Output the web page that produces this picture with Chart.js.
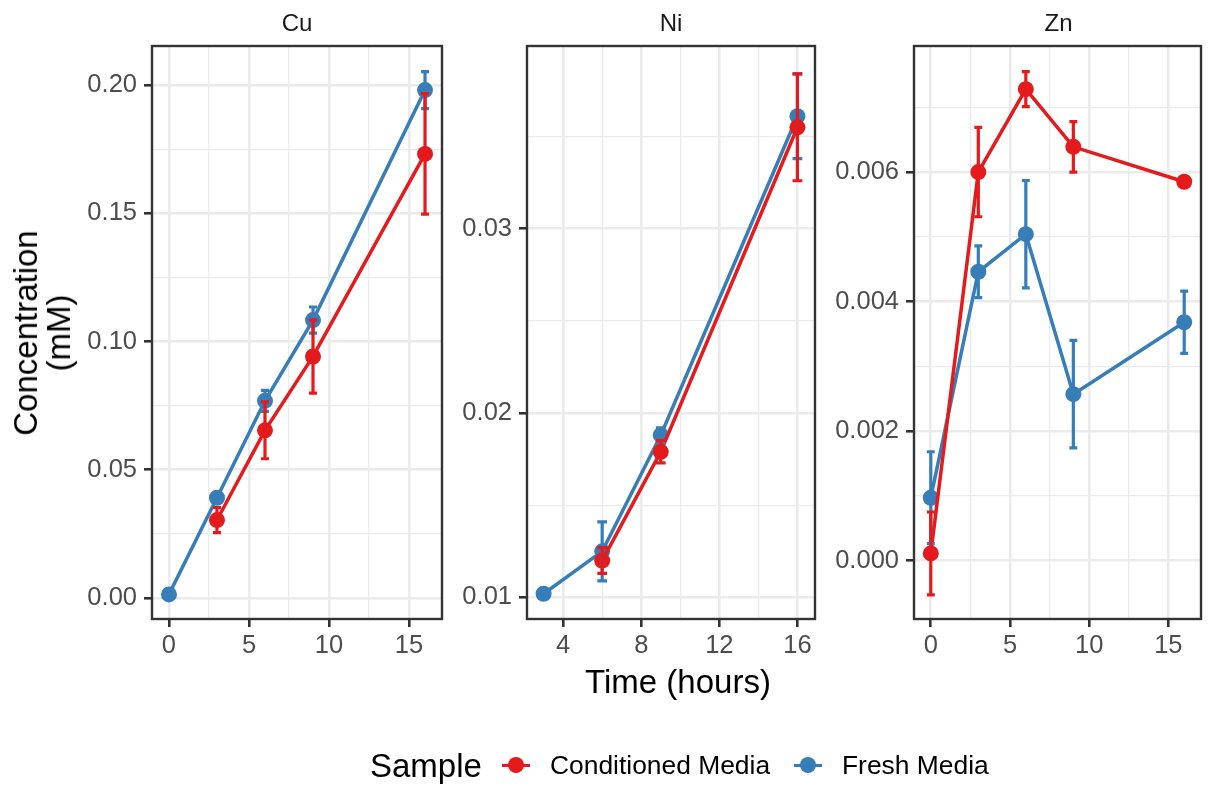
<!DOCTYPE html>
<html>
<head>
<meta charset="utf-8">
<title>Metal concentration over time</title>
<script src="https://cdn.jsdelivr.net/npm/chart.js@4.4.0/dist/chart.umd.min.js"></script>
<style>
  body { margin: 0; background: #fff; font-family: "Liberation Sans", Arial, sans-serif; }
  #wrap { position: relative; width: 1209px; height: 792px; overflow: hidden; }
  canvas { position: absolute; left: 0; top: 0; }
  .txt { position: absolute; line-height: 1; white-space: nowrap; transform: translate(-50%, -50%); }
  .strip { font-size: 24px; color: #1a1a1a; }
  .title { font-size: 33px; color: #000; }
  .lg { position: absolute; line-height: 1; white-space: nowrap; transform: translateY(-50%); color: #000; }
  .key-line { position: absolute; height: 3px; }
  .key-dot { position: absolute; width: 16px; height: 16px; border-radius: 50%; }
</style>
</head>
<body>
<div id="wrap">
  <canvas id="cu" width="1209" height="792"></canvas>
  <canvas id="ni" width="1209" height="792"></canvas>
  <canvas id="zn" width="1209" height="792"></canvas>

  <div class="txt strip" style="left:297px; top:23px;">Cu</div>
  <div class="txt strip" style="left:671px; top:23px;">Ni</div>
  <div class="txt strip" style="left:1058.5px; top:23px;">Zn</div>

  <div class="txt title" style="left:678px; top:681px;">Time (hours)</div>
  <div class="txt title" style="left:42px; top:332.5px; line-height:33px; text-align:center; transform:translate(-50%,-50%) rotate(-90deg);">Concentration<br>(mM)</div>

  <div class="lg" style="left:370px; top:765px; font-size:33px;">Sample</div>
  <div class="key-line" style="left:502px; top:763.5px; width:28px; background:#E41A1C;"></div>
  <div class="key-dot" style="left:508px; top:757px; background:#E41A1C;"></div>
  <div class="lg" style="left:550px; top:765px; font-size:26.4px;">Conditioned Media</div>
  <div class="key-line" style="left:794px; top:763.5px; width:28px; background:#377EB8;"></div>
  <div class="key-dot" style="left:800px; top:757px; background:#377EB8;"></div>
  <div class="lg" style="left:842px; top:765px; font-size:26.4px;">Fresh Media</div>
</div>

<script>
// ---- data (mean concentration in mM, with error half-widths) ----
const cuTimes = [0, 3, 6, 9, 16];
const cuConditioned = [null, 0.0304, 0.0654, 0.0942, 0.1732];
const cuConditionedErr = [null, 0.0049, 0.0111, 0.0143, 0.0235];
const cuFresh = [0.0014, 0.0391, 0.0769, 0.1084, 0.1981];
const cuFreshErr = [0.0004, 0.0012, 0.0041, 0.0051, 0.0072];

const niTimes = [3, 6, 9, 16];
const niConditioned = [null, 0.0120, 0.0179, 0.0355];
const niConditionedErr = [null, 0.0007, 0.0006, 0.0029];
const niFresh = [0.0102, 0.0125, 0.0188, 0.0361];
const niFreshErr = [0.0001, 0.0016, 0.0004, 0.0023];

const znTimes = [0, 3, 6, 9, 16];
const znConditioned = [0.00011, 0.00600, 0.00728, 0.00639, 0.00585];
const znConditionedErr = [0.00064, 0.00069, 0.00027, 0.00039, 0.00003];
const znFresh = [0.00097, 0.00446, 0.00504, 0.00257, 0.00368];
const znFreshErr = [0.00071, 0.00040, 0.00083, 0.00083, 0.00048];

// tick labels
const cuYTicks = ['0.00', '0.05', '0.10', '0.15', '0.20'];
const niYTicks = ['0.01', '0.02', '0.03'];
const znYTicks = ['0.000', '0.002', '0.004', '0.006'];
const cuXTicks = ['0', '5', '10', '15'];
const niXTicks = ['4', '8', '12', '16'];
const znXTicks = ['0', '5', '10', '15'];

const seriesNames = ['Conditioned Media', 'Fresh Media'];
const seriesColors = ['#E41A1C', '#377EB8'];

// ---- layout / style ----
const ERR_WIDTH = 0.5;      // error bar cap width in hours
const AXIS_W = 100;         // fixed y axis box width
const AXIS_H = 60;          // fixed x axis box height
const PANEL_TOP = 46;
const PANEL_BOTTOM = 619;

const panels = [
  { id: 'cu', left: 152, right: 442, xMin: -1.06, xMax: 17.06, yMin: -0.0082, yMax: 0.2153,
    times: cuTimes, series: [[cuConditioned, cuConditionedErr], [cuFresh, cuFreshErr]],
    xTicks: cuXTicks, yTicks: cuYTicks },
  { id: 'ni', left: 527, right: 815, xMin: 2.15, xMax: 16.9, yMin: 0.00883, yMax: 0.03991,
    times: niTimes, series: [[niConditioned, niConditionedErr], [niFresh, niFreshErr]],
    xTicks: niXTicks, yTicks: niYTicks },
  { id: 'zn', left: 914, right: 1203, xMin: -1.06, xMax: 17.06, yMin: -0.000903, yMax: 0.007947,
    times: znTimes, series: [[znConditioned, znConditionedErr], [znFresh, znFreshErr]],
    xTicks: znXTicks, yTicks: znYTicks }
];

// major ticks from labels plus ggplot-style minor ticks halfway between
function withMinor(labels, min, max) {
  const v = labels.map(Number);
  const step = v[1] - v[0];
  const out = [];
  for (let i = -1; i < v.length; i++) {
    if (i >= 0) out.push({ value: v[i], major: true, label: labels[i] });
    const m = (i >= 0 ? v[i] : v[0] - step) + step / 2;
    if (m > min && m < max) out.push({ value: m, major: false });
  }
  return out;
}

function isMajor(list, value) {
  return list.some(t => t.major && Math.abs(t.value - value) < 1e-9);
}

function labelFor(list, value) {
  const t = list.find(t => t.major && Math.abs(t.value - value) < 1e-9);
  return t ? t.label : '';
}

function axisOptions(list, min, max, horizontal) {
  return {
    type: 'linear',
    min: min,
    max: max,
    afterBuildTicks: scale => { scale.ticks = list.map(t => ({ value: t.value })); },
    afterFit: scale => {
      if (horizontal) scale.height = AXIS_H; else scale.width = AXIS_W;
    },
    border: { display: false },
    grid: {
      color: '#EBEBEB',
      lineWidth: ctx => isMajor(list, ctx.tick.value) ? 2.6 : 1.3,
      tickColor: ctx => isMajor(list, ctx.tick.value) ? '#333333' : 'rgba(0,0,0,0)',
      tickWidth: 2.6,
      tickLength: 8
    },
    ticks: {
      autoSkip: false,
      maxRotation: 0,
      padding: horizontal ? 4 : 7,
      color: '#4D4D4D',
      font: { family: '"Liberation Sans", Arial, sans-serif', size: 25.5 },
      callback: value => labelFor(list, value)
    }
  };
}

// error bars + panel border, drawn over the lines and points
const panelExtras = {
  id: 'panelExtras',
  afterDatasetsDraw(chart) {
    const ctx = chart.ctx;
    const xs = chart.scales.x;
    const ys = chart.scales.y;
    const area = chart.chartArea;
    ctx.save();
    ctx.beginPath();
    ctx.rect(area.left, area.top, area.width, area.height);
    ctx.clip();
    for (let d = chart.data.datasets.length - 1; d >= 0; d--) {
      const ds = chart.data.datasets[d];
      ctx.strokeStyle = ds.borderColor;
      ctx.lineWidth = 3.2;
      ds.data.forEach(p => {
        if (!p.err) return;
        const xc = xs.getPixelForValue(p.x);
        const xl = xs.getPixelForValue(p.x - ERR_WIDTH / 2);
        const xr = xs.getPixelForValue(p.x + ERR_WIDTH / 2);
        const yt = ys.getPixelForValue(p.y + p.err);
        const yb = ys.getPixelForValue(p.y - p.err);
        ctx.beginPath();
        ctx.moveTo(xc, yt); ctx.lineTo(xc, yb);
        ctx.moveTo(xl, yt); ctx.lineTo(xr, yt);
        ctx.moveTo(xl, yb); ctx.lineTo(xr, yb);
        ctx.stroke();
      });
    }
    ctx.restore();

    ctx.save();
    ctx.strokeStyle = '#333333';
    ctx.lineWidth = 2.4;
    ctx.strokeRect(area.left, area.top, area.width, area.height);
    ctx.restore();
  }
};

panels.forEach(p => {
  const xList = withMinor(p.xTicks, p.xMin, p.xMax);
  const yList = withMinor(p.yTicks, p.yMin, p.yMax);

  const datasets = p.series.map((s, k) => ({
    label: seriesNames[k],
    data: p.times
      .map((t, i) => s[0][i] == null ? null : { x: t, y: s[0][i], err: s[1][i] })
      .filter(Boolean),
    borderColor: seriesColors[k],
    backgroundColor: seriesColors[k],
    pointBackgroundColor: seriesColors[k],
    borderWidth: 3.5,
    pointRadius: 8,
    pointBorderWidth: 0,
    pointHoverRadius: 8,
    tension: 0
  }));

  new Chart(document.getElementById(p.id), {
    type: 'line',
    data: { datasets },
    options: {
      responsive: false,
      animation: false,
      devicePixelRatio: 1,
      events: [],
      layout: {
        padding: {
          left: p.left - AXIS_W,
          right: 1209 - p.right,
          top: PANEL_TOP,
          bottom: 792 - PANEL_BOTTOM - AXIS_H
        }
      },
      plugins: { legend: { display: false }, tooltip: { enabled: false } },
      scales: {
        x: axisOptions(xList, p.xMin, p.xMax, true),
        y: axisOptions(yList, p.yMin, p.yMax, false)
      }
    },
    plugins: [panelExtras]
  });
});
</script>
</body>
</html>
